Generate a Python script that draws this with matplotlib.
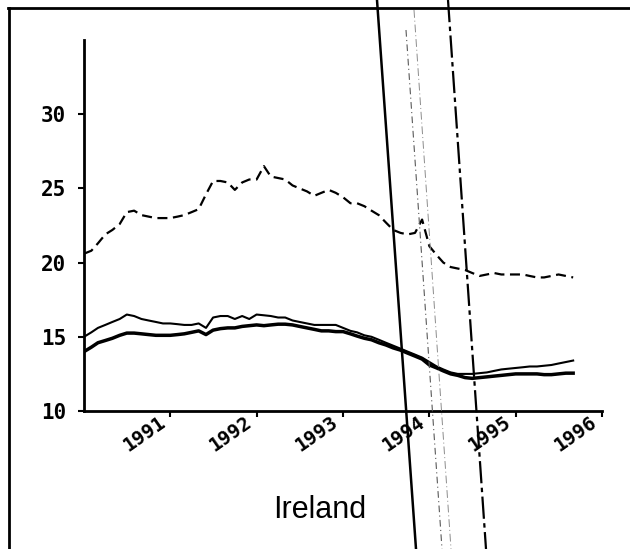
import matplotlib
matplotlib.use('Agg')
import matplotlib.pyplot as plt
import matplotlib.transforms as mtransforms
from matplotlib.lines import Line2D
import pandas as pd

# ---- data (monthly, Jan 1990 - Sep 1995) ----
dates = pd.date_range('1990-01-01', periods=69, freq='MS')

dashed_series = [20.6, 20.8, 21.3, 21.9, 22.2, 22.6, 23.4, 23.5, 23.2, 23.1, 23.0, 23.0,
                 23.0, 23.1, 23.2, 23.4, 23.6, 24.6, 25.5, 25.5, 25.4, 24.9, 25.4, 25.6,
                 25.6, 26.5, 25.8, 25.7, 25.6, 25.2, 25.0, 24.8, 24.5, 24.7, 24.9, 24.7,
                 24.4, 24.0, 24.0, 23.8, 23.5, 23.2, 22.7, 22.2, 22.0, 21.9, 22.0, 22.9,
                 21.1, 20.5, 20.0, 19.7, 19.6, 19.5, 19.3, 19.1, 19.2, 19.3, 19.2, 19.2,
                 19.2, 19.2, 19.1, 19.0, 19.0, 19.1, 19.2, 19.1, 19.0]

upper_series = [15.0, 15.3, 15.6, 15.8, 16.0, 16.2, 16.5, 16.4, 16.2, 16.1, 16.0, 15.9,
                15.9, 15.85, 15.8, 15.8, 15.9, 15.6, 16.3, 16.4, 16.4, 16.2, 16.4, 16.2,
                16.5, 16.45, 16.4, 16.3, 16.3, 16.1, 16.0, 15.9, 15.8, 15.8, 15.8, 15.8,
                15.6, 15.4, 15.3, 15.1, 15.0, 14.8, 14.6, 14.4, 14.2, 14.0, 13.8, 13.6,
                13.3, 13.0, 12.8, 12.6, 12.5, 12.5, 12.5, 12.55, 12.6, 12.7, 12.8, 12.85,
                12.9, 12.95, 13.0, 13.0, 13.05, 13.1, 13.2, 13.3, 13.4]

lower_series = [14.0, 14.3, 14.6, 14.75, 14.9, 15.1, 15.25, 15.25, 15.2, 15.15, 15.1, 15.1,
                15.1, 15.15, 15.2, 15.3, 15.4, 15.15, 15.45, 15.55, 15.6, 15.6, 15.7, 15.75,
                15.8, 15.75, 15.8, 15.85, 15.85, 15.8, 15.7, 15.6, 15.5, 15.4, 15.4, 15.35,
                15.35, 15.2, 15.05, 14.9, 14.8, 14.6, 14.45, 14.25, 14.1, 13.9, 13.7, 13.5,
                13.1, 12.9, 12.7, 12.5, 12.4, 12.25, 12.2, 12.25, 12.3, 12.35, 12.4, 12.45,
                12.5, 12.5, 12.5, 12.5, 12.45, 12.45, 12.5, 12.55, 12.55]

x_tick_years = [1991, 1992, 1993, 1994, 1995, 1996]
y_ticks = [10, 15, 20, 25, 30]
title_text = 'Ireland'

# ---- figure ----
fig = plt.figure(figsize=(6.3, 5.49), dpi=100)
fig.patch.set_facecolor('white')
ax = fig.add_axes([84/630, 1-411/549, (602-84)/630, (411-40)/549])

ax.plot(dates, dashed_series, color='black', lw=1.6, ls=(0, (4.5, 2.5)))
ax.plot(dates, upper_series, color='black', lw=1.5)
ax.plot(dates, lower_series, color='black', lw=2.5)

ax.set_xlim(pd.Timestamp('1990-01-01'), pd.Timestamp('1996-01-01'))
ax.set_ylim(10, 35)

for s in ['top', 'right']:
    ax.spines[s].set_visible(False)
for s in ['left', 'bottom']:
    ax.spines[s].set_linewidth(2)
    ax.spines[s].set_color('black')

tick_dates = [pd.Timestamp(f'{y}-01-01') for y in x_tick_years]
ax.set_xticks(tick_dates)
ax.set_xticklabels([str(y) for y in x_tick_years])
ax.set_yticks(y_ticks)
ax.set_yticklabels([str(v) for v in y_ticks])

ax.tick_params(axis='both', direction='out', length=4, width=1.5, colors='black')
ax.tick_params(axis='y', pad=9, labelsize=15)
ax.tick_params(axis='x', pad=0, labelsize=14)
for lab in ax.get_yticklabels():
    lab.set_family('DejaVu Sans Mono')
    lab.set_weight('bold')
offset = mtransforms.ScaledTranslation(-9/72, 3/72, fig.dpi_scale_trans)
for lab in ax.get_xticklabels():
    lab.set_family('DejaVu Sans Mono')
    lab.set_weight('bold')
    lab.set_rotation(35)
    lab.set_ha('right')
    lab.set_va('top')
    lab.set_rotation_mode('anchor')
    lab.set_transform(lab.get_transform() + offset)

fig.text(320/630, 1-518/549, title_text, ha='center', va='baseline',
         fontsize=22, family='Liberation Sans')

# ---- page frame and scan streaks ----
fig.add_artist(Line2D([8/630, 1.0], [1-8/549, 1-8/549], transform=fig.transFigure,
                      color='black', lw=2))
fig.add_artist(Line2D([9/630, 9/630], [1-8/549, 0.0], transform=fig.transFigure,
                      color='black', lw=2))
fig.add_artist(Line2D([377/630, 416/630], [1.0, 0.0], transform=fig.transFigure,
                      color='black', lw=1.8))
fig.add_artist(Line2D([448/630, 486/630], [1.0, 0.0], transform=fig.transFigure,
                      color='black', lw=1.6, ls=(0, (10, 2, 2, 2))))
fig.add_artist(Line2D([406/630, 442/630], [1-30/549, 0.0], transform=fig.transFigure,
                      color='0.35', lw=0.8, ls=(0, (6, 3, 1, 3))))
fig.add_artist(Line2D([414/630, 451/630], [1-10/549, 0.0], transform=fig.transFigure,
                      color='0.55', lw=0.7, ls=(0, (8, 3, 1, 3))))

fig.savefig('out.png', dpi=100, facecolor='white')
